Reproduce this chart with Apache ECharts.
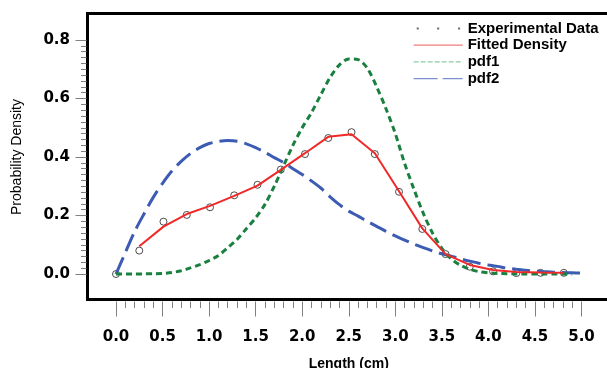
<!DOCTYPE html>
<html>
<head>
<meta charset="utf-8">
<script src="https://cdn.jsdelivr.net/npm/echarts@6/dist/echarts.min.js"></script>
<style>
  html, body { margin: 0; padding: 0; background: #fff; overflow: hidden; }
  #chart { width: 607px; height: 368px; }
</style>
</head>
<body>
<div id="chart"></div>
<script>
// Experimental measurements (length in cm, density)
const expX = [0, 0.25, 0.51, 0.76, 1.01, 1.27, 1.52, 1.77, 2.03, 2.28, 2.53, 2.78, 3.04, 3.29, 3.54, 3.80, 4.05, 4.30, 4.56, 4.81];
const expY = [0, 0.080, 0.179, 0.202, 0.228, 0.269, 0.305, 0.357, 0.410, 0.465, 0.485, 0.410, 0.281, 0.154, 0.068, 0.025, 0.009, 0.003, 0.004, 0.004];

// Fitted mixture density, evaluated at the measurement lengths
const fitX = [0.25, 0.51, 0.76, 1.01, 1.27, 1.52, 1.77, 2.03, 2.28, 2.53, 2.78, 3.04, 3.29, 3.54, 3.80, 4.05, 4.30, 4.56, 4.81];
const fitY = [0.095, 0.162, 0.205, 0.233, 0.267, 0.302, 0.356, 0.413, 0.469, 0.478, 0.413, 0.283, 0.156, 0.068, 0.031, 0.014, 0.007, 0.005, 0.004];

// Component densities sampled every 0.1 cm
const pdfX = [0.0, 0.1, 0.2, 0.3, 0.4, 0.5, 0.6, 0.7, 0.8, 0.9,
              1.0, 1.1, 1.2, 1.3, 1.4, 1.5, 1.6, 1.7, 1.8, 1.9,
              2.0, 2.1, 2.2, 2.3, 2.4, 2.5, 2.6, 2.7, 2.8, 2.9,
              3.0, 3.1, 3.2, 3.3, 3.4, 3.5, 3.6, 3.7, 3.8, 3.9,
              4.0, 4.1, 4.2, 4.3, 4.4, 4.5, 4.6, 4.7, 4.8, 4.9, 5.0];
const pdf1Y = [0, 0, 0, 0.0005, 0.001, 0.002, 0.005, 0.011, 0.021, 0.032,
               0.046, 0.063, 0.090, 0.118, 0.155, 0.192, 0.238, 0.300, 0.370, 0.440,
               0.500, 0.552, 0.613, 0.672, 0.715, 0.735, 0.733, 0.703, 0.640, 0.565,
               0.480, 0.378, 0.290, 0.208, 0.140, 0.088, 0.052, 0.030, 0.016, 0.008,
               0.004, 0.002, 0.001, 0, 0, 0, 0, 0, 0, 0, null];
const pdf2Y = [0, 0.073, 0.145, 0.205, 0.262, 0.310, 0.352, 0.385, 0.412, 0.432,
               0.446, 0.453, 0.456, 0.454, 0.445, 0.432, 0.416, 0.398, 0.381, 0.360,
               0.340, 0.318, 0.294, 0.264, 0.237, 0.215, 0.198, 0.180, 0.163, 0.146,
               0.130, 0.116, 0.102, 0.090, 0.079, 0.069, 0.061, 0.052, 0.044, 0.037,
               0.031, 0.026, 0.020, 0.016, 0.013, 0.010, 0.008, 0.006, 0.005, 0.004, 0.003];

const xTicks = { min: 0, max: 5, interval: 0.5 };
const yTicks = { min: 0, max: 0.8, interval: 0.2 };

const zip = (xs, ys) => xs.map((x, i) => [x, ys[i]]).filter(p => p[1] !== null);

const chart = echarts.init(document.getElementById('chart'), null, { renderer: 'canvas' });

const tickFont = { fontFamily: 'DejaVu Sans', fontWeight: 'bold', fontSize: 15, color: '#000' };
const hiddenSymbol = { color: 'rgba(0,0,0,0)', borderWidth: 0, opacity: 0 };

// Heavy black frame: left, top and bottom edges of the panel
const frameAxis = (position) => ({
  gridIndex: 0, type: 'value', min: 0, max: 1, position,
  axisLine: { show: true, onZero: false, lineStyle: { color: '#000', width: 3, cap: 'square' } },
  axisTick: { show: false }, axisLabel: { show: false }, splitLine: { show: false }
});

chart.setOption({
  animation: false,
  backgroundColor: '#fff',
  grid: [
    // framed plotting panel, open to the right edge of the canvas
    { left: 87.5, top: 13.5, right: 0, bottom: 68.5, outerBoundsMode: 'none', containLabel: false },
    // data region spanning 0..5 cm and 0..0.8
    { left: 116, top: 40, right: 25.5, bottom: 94, outerBoundsMode: 'none', containLabel: false }
  ],
  xAxis: [
    frameAxis('bottom'),
    {
      gridIndex: 1, type: 'value', min: xTicks.min, max: xTicks.max, interval: xTicks.interval,
      offset: 27.5,
      axisLine: { show: false, onZero: false },
      axisTick: { show: true, length: 15, lineStyle: { color: '#808080', width: 1 } },
      minorTick: { show: true, splitNumber: 5, length: 6.5, lineStyle: { color: '#808080', width: 1 } },
      splitLine: { show: false },
      axisLabel: Object.assign({ margin: 28, formatter: v => v.toFixed(1) }, tickFont),
      name: 'Length (cm)', nameLocation: 'middle', nameGap: 56,
      nameTextStyle: { fontFamily: 'Liberation Sans', fontWeight: 'bold', fontSize: 14, color: '#000' }
    },
    frameAxis('top')
  ],
  yAxis: [
    frameAxis('left'),
    {
      gridIndex: 1, type: 'value', min: yTicks.min, max: yTicks.max, interval: yTicks.interval,
      offset: 29.5,
      axisLine: { show: false, onZero: false },
      axisTick: { show: true, length: 11, lineStyle: { color: '#808080', width: 1 } },
      minorTick: { show: true, splitNumber: 10, length: 5.5, lineStyle: { color: '#808080', width: 1 } },
      splitLine: { show: false },
      axisLabel: Object.assign({ margin: 16.5, formatter: v => v.toFixed(1) }, tickFont),
      name: 'Probability Density', nameLocation: 'middle', nameGap: 62,
      nameTextStyle: { fontFamily: 'Liberation Sans', fontSize: 14, color: '#000' }
    }
  ],
  legend: {
    orient: 'vertical', left: 408, top: 16,
    itemWidth: 49, itemHeight: 12, itemGap: 1.7,
    textStyle: { fontFamily: 'Liberation Sans', fontWeight: 'bold', fontSize: 15, lineHeight: 15, color: '#000' },
    data: [
      { name: 'Experimental Data', icon: 'path://M0,0M3,4h2v2h-2zM23,4h2v2h-2zM43.5,4h2v2h-2zM48,10', itemStyle: { color: '#444', borderWidth: 0 } },
      { name: 'Fitted Density', itemStyle: hiddenSymbol, lineStyle: { color: '#f07a7a', width: 1.3 } },
      { name: 'pdf1', itemStyle: hiddenSymbol, lineStyle: { color: '#8ccaa4', width: 1.3, type: [5, 2] } },
      { name: 'pdf2', itemStyle: hiddenSymbol, lineStyle: { color: '#7a90d0', width: 1.3, type: [24, 5] } }
    ]
  },
  series: [
    {
      name: 'pdf2', type: 'line', xAxisIndex: 1, yAxisIndex: 1, data: zip(pdfX, pdf2Y),
      smooth: 0.3, symbol: 'none', clip: false,
      lineStyle: { color: '#3c5cb4', width: 3, type: [18, 7] }, itemStyle: { color: '#3c5cb4' }
    },
    {
      name: 'pdf1', type: 'line', xAxisIndex: 1, yAxisIndex: 1, data: zip(pdfX, pdf1Y),
      smooth: 0.3, symbol: 'none', clip: false,
      lineStyle: { color: '#1a8040', width: 3, type: [6, 4] }, itemStyle: { color: '#1a8040' }
    },
    {
      name: 'Fitted Density', type: 'line', xAxisIndex: 1, yAxisIndex: 1, data: zip(fitX, fitY),
      symbol: 'none', clip: false,
      lineStyle: { color: '#f02828', width: 2 }, itemStyle: { color: '#f02828' }
    },
    {
      name: 'Experimental Data', type: 'scatter', xAxisIndex: 1, yAxisIndex: 1, data: zip(expX, expY),
      symbol: 'circle', symbolSize: 7, clip: false,
      itemStyle: { color: 'rgba(255,255,255,0)', borderColor: '#222', borderWidth: 1 }
    }
  ]
});
</script>
</body>
</html>
